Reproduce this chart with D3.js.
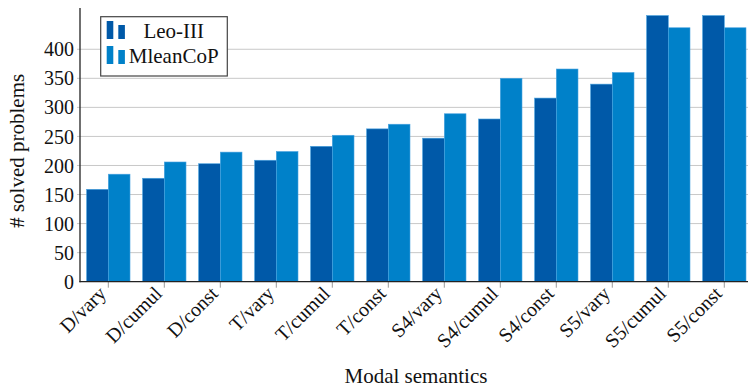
<!DOCTYPE html>
<html>
<head>
<meta charset="utf-8">
<script src="https://cdn.jsdelivr.net/npm/d3@7"></script>
<style>
  html, body { margin: 0; padding: 0; background: #fff; }
  svg { display: block; font-family: "Liberation Serif", "DejaVu Serif", serif; }
</style>
</head>
<body>
<svg id="chart" width="748" height="389"></svg>
<script>
// Solved problems per modal semantics, for each prover
const categories = ["D/vary", "D/cumul", "D/const", "T/vary", "T/cumul", "T/const",
                    "S4/vary", "S4/cumul", "S4/const", "S5/vary", "S5/cumul", "S5/const"];
const seriesNames = ["Leo-III", "MleanCoP"];
const leoValues = [159, 178, 203, 209, 233, 263, 247, 280, 316, 340, 458, 458];
const mleanValues = [185, 206, 223, 224, 252, 271, 289, 350, 366, 360, 437, 437];
const yTicks = [0, 50, 100, 150, 200, 250, 300, 350, 400];
const colors = ["#0059a8", "#0081c9"];

const FONT = '"Liberation Serif", "DejaVu Serif", serif';
const svg = d3.select("#chart");
const W = 748;
const plotLeft = 80, plotBottom = 281.7, plotTop = 8;

const x0 = d3.scaleBand()
  .domain(categories)
  .range([plotLeft, 752.6])
  .paddingInner(0.225)
  .paddingOuter(0.118);

const x1 = d3.scaleBand()
  .domain(seriesNames)
  .range([0, x0.bandwidth()]);

const y = d3.scaleLinear()
  .domain([0, 471])
  .range([plotBottom, plotTop]);

// horizontal grid lines with small ticks left of the axis
svg.append("g")
  .selectAll("line")
  .data(yTicks.filter(d => d > 0))
  .join("line")
  .attr("x1", plotLeft - 3)
  .attr("x2", W)
  .attr("y1", d => y(d))
  .attr("y2", d => y(d))
  .attr("stroke", "#c8c8c8")
  .attr("stroke-width", 1);

// bars
const rows = categories.map((c, i) => ({ cat: c, vals: [leoValues[i], mleanValues[i]] }));
const groups = svg.append("g")
  .selectAll("g")
  .data(rows)
  .join("g")
  .attr("transform", d => `translate(${x0(d.cat)},0)`);

groups.selectAll("rect")
  .data(d => d.vals.map((v, k) => ({ name: seriesNames[k], v, k })))
  .join("rect")
  .attr("x", d => x1(d.name))
  .attr("width", x1.bandwidth())
  .attr("y", d => y(d.v))
  .attr("height", d => y(0) - y(d.v))
  .attr("fill", d => colors[d.k])
  .attr("stroke", "#4aa3e0")
  .attr("stroke-width", 0.6);

// y axis
const yAxis = d3.axisLeft(y).tickValues(yTicks).tickSize(0).tickPadding(6);
const gy = svg.append("g").attr("transform", `translate(${plotLeft},0)`).call(yAxis)
  .attr("font-family", FONT).attr("font-size", 20);
gy.select(".domain").remove();
gy.selectAll("text")
  .attr("fill", "#111")
  .attr("dy", "0.33em");
svg.append("line")
  .attr("x1", plotLeft).attr("x2", plotLeft)
  .attr("y1", plotTop).attr("y2", plotBottom + 0.5)
  .attr("stroke", "#222").attr("stroke-width", 1.3);

// x axis
const xAxis = d3.axisBottom(x0).tickSize(0).tickPadding(0);
const gx = svg.append("g").attr("transform", `translate(0,${plotBottom})`).call(xAxis)
  .attr("font-family", FONT).attr("font-size", 20);
gx.select(".domain").remove();
gx.selectAll(".tick line").remove();
gx.selectAll(".tick").append("line")
  .attr("y1", 0).attr("y2", 6)
  .attr("stroke", "#999").attr("stroke-width", 1);
gx.selectAll(".tick text")
  .attr("fill", "#111")
  .attr("text-anchor", "end")
  .attr("dy", null)
  .attr("transform", "translate(-1,13) rotate(-45)");
svg.append("line")
  .attr("x1", plotLeft - 0.6).attr("x2", W)
  .attr("y1", plotBottom).attr("y2", plotBottom)
  .attr("stroke", "#222").attr("stroke-width", 1.3);

// axis titles
svg.append("text")
  .attr("transform", `translate(24,${(plotTop + plotBottom) / 2 + 6}) rotate(-90)`)
  .attr("text-anchor", "middle")
  .attr("font-size", 21)
  .attr("fill", "#111")
  .text("# solved problems");

svg.append("text")
  .attr("x", 416)
  .attr("y", 383)
  .attr("text-anchor", "middle")
  .attr("font-size", 21)
  .attr("fill", "#111")
  .text("Modal semantics");

// legend
const lg = svg.append("g").attr("transform", "translate(100.7,16.7)");
lg.append("rect")
  .attr("width", 126.6).attr("height", 59.3)
  .attr("fill", "#fff").attr("stroke", "#444").attr("stroke-width", 1.2);
seriesNames.forEach((name, k) => {
  const row = lg.append("g").attr("transform", `translate(0,${k * 25})`);
  row.append("rect").attr("x", 6).attr("y", 4.3).attr("width", 6.6).attr("height", 18).attr("fill", colors[k]);
  row.append("rect").attr("x", 17.6).attr("y", 8.3).attr("width", 6.6).attr("height", 14).attr("fill", colors[k]);
  row.append("text")
    .attr("x", 73).attr("y", 21)
    .attr("text-anchor", "middle")
    .attr("font-size", 21)
    .attr("fill", "#111")
    .text(name);
});
</script>
</body>
</html>
